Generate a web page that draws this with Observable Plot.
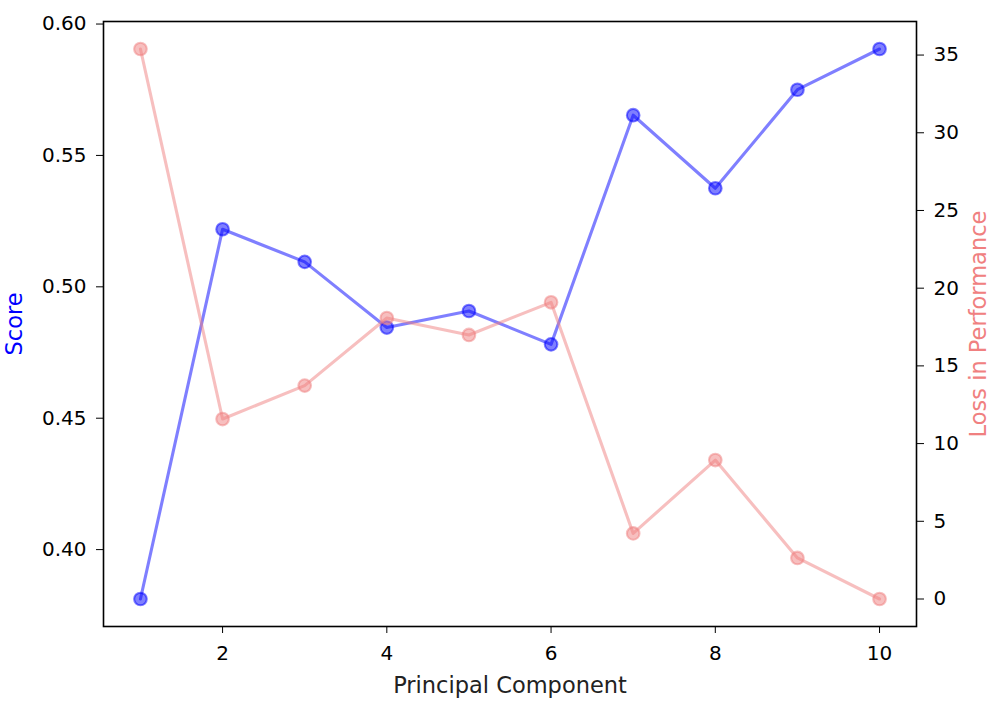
<!DOCTYPE html>
<html>
<head>
<meta charset="utf-8">
<script src="https://cdn.jsdelivr.net/npm/d3@7"></script>
<script src="https://cdn.jsdelivr.net/npm/@observablehq/plot@0.6"></script>
<style>
  html, body { margin: 0; padding: 0; background: #fff; }
  #chart { width: 1000px; height: 714px; }
  svg { font-family: "DejaVu Sans", sans-serif; }
</style>
</head>
<body>
<div id="chart"></div>
<script>
// ---- data ----
const components = [1, 2, 3, 4, 5, 6, 7, 8, 9, 10];
const score = [0.3812, 0.5219, 0.5095, 0.4845, 0.4908, 0.4781, 0.5653, 0.5375, 0.5750, 0.5905];
const loss = [35.39, 11.58, 13.73, 18.08, 16.99, 19.09, 4.22, 8.94, 2.64, 0.0];
const xTicks = [2, 4, 6, 8, 10];
const scoreTicks = [0.40, 0.45, 0.50, 0.55, 0.60];
const lossTicks = [0, 5, 10, 15, 20, 25, 30, 35];

// ---- scales (matplotlib-like 5% margins) ----
const xDomain = [0.55, 10.45];
const sMin = d3.min(score), sMax = d3.max(score), sPad = (sMax - sMin) * 0.05;
const yDomain = [sMin - sPad, sMax + sPad];
const lMin = d3.min(loss), lMax = d3.max(loss), lPad = (lMax - lMin) * 0.05;
const lDomain = [lMin - lPad, lMax + lPad];
// map loss values onto the score scale (twin axis)
const toY = v => yDomain[0] + (v - lDomain[0]) * (yDomain[1] - yDomain[0]) / (lDomain[1] - lDomain[0]);
const fromY = v => lDomain[0] + (v - yDomain[0]) * (lDomain[1] - lDomain[0]) / (yDomain[1] - yDomain[0]);

const scoreData = components.map((c, i) => ({c, v: score[i]}));
const lossData = components.map((c, i) => ({c, v: toY(loss[i])}));

const blue = "blue";
const coral = "lightcoral";

const chart = Plot.plot({
  width: 1000,
  height: 714,
  marginLeft: 103,
  marginRight: 84,
  marginTop: 21,
  marginBottom: 88,
  style: {fontSize: "20px", fontFamily: "'DejaVu Sans', sans-serif", color: "black", background: "white"},
  x: {domain: xDomain},
  y: {domain: yDomain},
  marks: [
    Plot.axisX({ticks: xTicks, tickSize: 7, tickPadding: 12, tickFormat: d => String(d), label: null, fontSize: 20}),
    Plot.axisY({anchor: "left", ticks: scoreTicks, tickSize: 7, tickPadding: 10, tickFormat: d3.format(".2f"), label: null, fontSize: 20}),
    Plot.axisY({anchor: "right", ticks: lossTicks.map(toY), tickSize: 7, tickPadding: 10,
      tickFormat: d => String(Math.round(fromY(d))), label: null, fontSize: 20}),
    // score series
    Plot.line(scoreData, {x: "c", y: "v", stroke: blue, strokeOpacity: 0.5, strokeWidth: 3.1}),
    Plot.dot(scoreData, {x: "c", y: "v", r: 6.3, fill: blue, fillOpacity: 0.5, stroke: blue, strokeOpacity: 0.5, strokeWidth: 2.1}),
    // loss series (twin axis, drawn on top)
    Plot.line(lossData, {x: "c", y: "v", stroke: coral, strokeOpacity: 0.5, strokeWidth: 3.1}),
    Plot.dot(lossData, {x: "c", y: "v", r: 6.3, fill: coral, fillOpacity: 0.5, stroke: coral, strokeOpacity: 0.5, strokeWidth: 2.1}),
    Plot.frame({stroke: "black", strokeWidth: 1.6}),
    // axis titles
    Plot.text(["Principal Component"], {frameAnchor: "bottom", dy: 59, text: d => d, fill: "#222", fontSize: 22.5, textAnchor: "middle", lineAnchor: "middle"}),
    Plot.text(["Score"], {frameAnchor: "left", dx: -89, rotate: -90, text: d => d, fill: blue, fontSize: 22.5, textAnchor: "middle", lineAnchor: "middle"}),
    Plot.text(["Loss in Performance"], {frameAnchor: "right", dx: 62, rotate: -90, text: d => d, fill: coral, fontSize: 22.5, textAnchor: "middle", lineAnchor: "middle"})
  ]
});
document.getElementById("chart").appendChild(chart);
</script>
</body>
</html>
